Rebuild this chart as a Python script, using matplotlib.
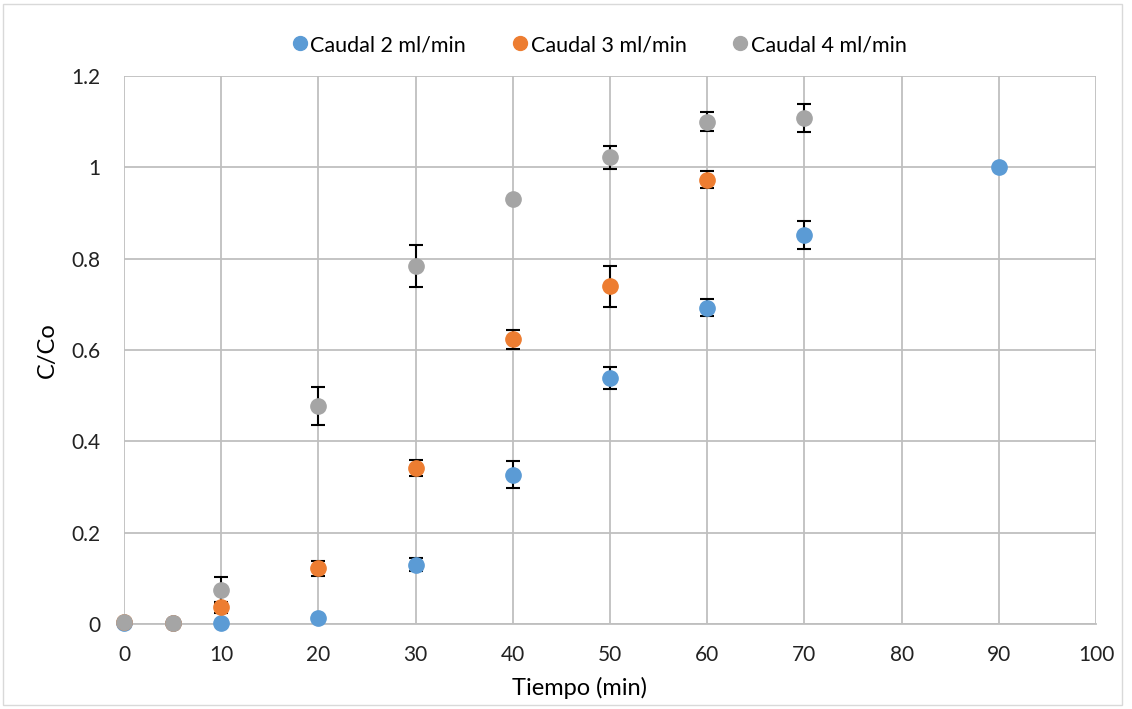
import matplotlib.pyplot as plt
from matplotlib.patches import Rectangle

plt.rcParams["font.family"] = ["Lato", "DejaVu Sans"]

# data
x2 = [0, 5, 10, 20, 30, 40, 50, 60, 70, 90]
y2 = [0.003, 0.002, 0.002, 0.013, 0.130, 0.327, 0.538, 0.693, 0.852, 1.0]
e2 = [0, 0, 0, 0, 0.015, 0.030, 0.024, 0.018, 0.030, 0]

x3 = [0, 5, 10, 20, 30, 40, 50, 60]
y3 = [0.005, 0.002, 0.037, 0.122, 0.342, 0.623, 0.740, 0.973]
e3 = [0, 0, 0.012, 0.017, 0.018, 0.020, 0.045, 0.018]

x4 = [0, 5, 10, 20, 30, 40, 50, 60, 70]
y4 = [0.005, 0.003, 0.074, 0.477, 0.783, 0.930, 1.022, 1.100, 1.108]
e4 = [0, 0, 0.028, 0.041, 0.046, 0, 0.025, 0.021, 0.030]

labels = ["Caudal 2 ml/min", "Caudal 3 ml/min", "Caudal 4 ml/min"]
colors = ["#5B9BD5", "#ED7D31", "#A5A5A5"]

W, H = 1132, 709
fig = plt.figure(figsize=(W / 100, H / 100), dpi=100)
ax = fig.add_axes([124 / W, 1 - 624 / H, (1096 - 124) / W, (624 - 76) / H])

for xs, ys, es, lab, col in zip([x2, x3, x4], [y2, y3, y4], [e2, e3, e4], labels, colors):
    cont = ax.errorbar(xs, ys, yerr=es, fmt="o", color=col, ms=11, mec=col,
                       ecolor="black", elinewidth=1.5, capsize=5, capthick=1.5,
                       label=lab, zorder=3)
    cont.lines[0].set_clip_on(False)

ax.set_xlim(0, 100)
ax.set_ylim(0, 1.2)
ax.set_xticks(range(0, 101, 10))
ax.set_yticks([0, 0.2, 0.4, 0.6, 0.8, 1.0, 1.2])
ax.set_yticklabels(["0", "0.2", "0.4", "0.6", "0.8", "1", "1.2"])
ax.grid(True, color="#BFBFBF", lw=1.3)
ax.set_axisbelow(True)
for s in ["top", "right", "left"]:
    ax.spines[s].set_visible(False)
ax.spines["bottom"].set_color("#BFBFBF")
ax.spines["bottom"].set_linewidth(1.3)
ax.tick_params(length=0, labelsize=15, colors="#222222")
ax.tick_params(axis="x", pad=15)
ax.tick_params(axis="y", pad=17)
ax.set_xlabel("Tiempo (min)", fontsize=17)
ax.set_ylabel("C/Co", fontsize=17)
ax.xaxis.set_label_coords((580 - 124) / (1096 - 124), -(688 - 624) / (624 - 76))
ax.yaxis.set_label_coords(-(124 - 47) / (1096 - 124), 0.5)
ax.xaxis.label.set_va("center")
ax.yaxis.label.set_va("center")

handles = [plt.Line2D([], [], marker="o", ls="", color=c, ms=10) for c in colors]
fig.legend(handles, labels, loc="center", bbox_to_anchor=(598 / W, 1 - 45 / H),
           ncol=3, frameon=False, fontsize=15.5, handletextpad=0.0,
           columnspacing=2.0, handlelength=1.0)

fig.patches.append(Rectangle((0.003, 0.005), 0.988, 0.99, transform=fig.transFigure,
                             fill=False, ec="#D9D9D9", lw=1))

fig.savefig("out.png", dpi=100)
